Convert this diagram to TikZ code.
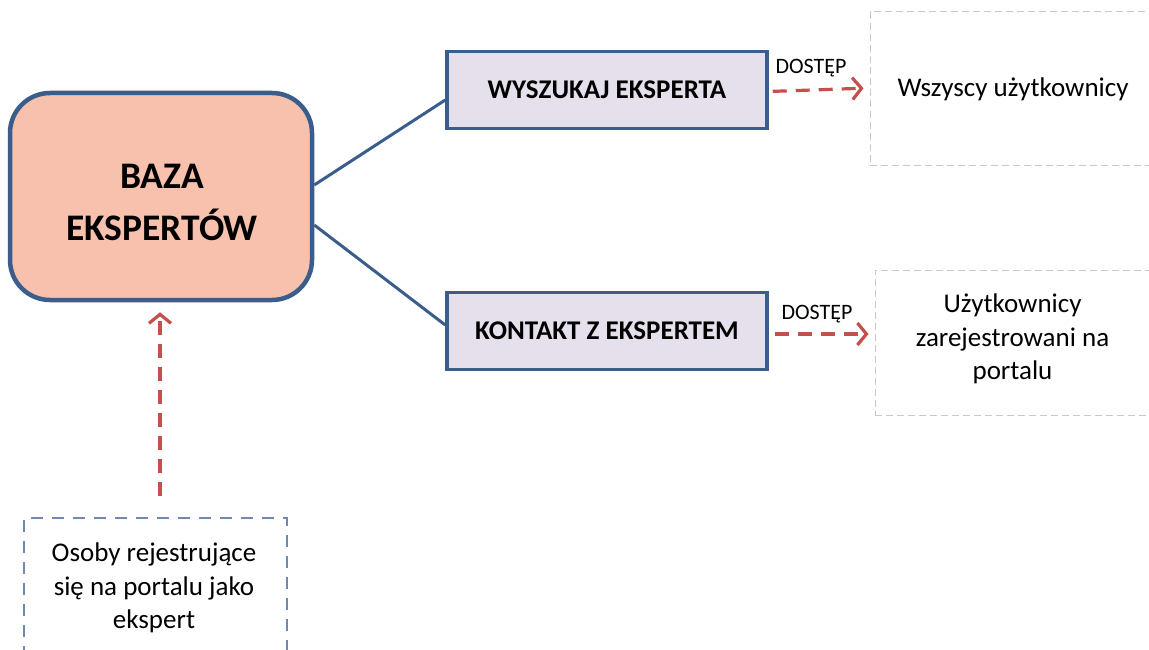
\documentclass[tikz,border=0pt]{standalone}
\usepackage{fontspec}
\setmainfont{Carlito}
\usetikzlibrary{arrows.meta,calc}
\definecolor{frameblue}{HTML}{3A5D8C}
\definecolor{salmon}{HTML}{F8C1AD}
\definecolor{lavender}{HTML}{E6E0EC}
\definecolor{accessred}{HTML}{C4504D}
\definecolor{lightgray}{HTML}{C8C8C8}
\definecolor{softblue}{HTML}{7189AF}
\tikzset{
  mainbox/.style={draw=frameblue, line width=4.5pt, fill=salmon, rounded corners=40pt,
    minimum width=302pt, minimum height=207pt, inner sep=0pt},
  maintext/.style={align=center, inner sep=0pt, font=\bfseries\fontsize{37.5}{52}\selectfont},
  funcbox/.style={draw=frameblue, line width=3.5pt, fill=lavender,
    minimum width=320pt, minimum height=77pt, inner sep=0pt,
    font=\bfseries\fontsize{27}{32}\selectfont},
  userbox/.style={draw=lightgray, line width=1pt, dash pattern=on 7pt off 4pt,
    align=center, inner sep=0pt, font=\fontsize{27}{33.5}\selectfont},
  sourcebox/.style={draw=softblue, line width=2.7pt, dash pattern=on 12pt off 9pt,
    inner sep=0pt},
  plaintext/.style={align=center, inner sep=0pt, font=\fontsize{27}{33.5}\selectfont},
  link/.style={draw=frameblue, line width=3pt},
  access/.style={draw=accessred, line width=3.2pt, dash pattern=on 14pt off 9pt,
    -{Straight Barb[length=9pt,width=22pt,line width=3.2pt]}},
  tag/.style={font=\fontsize{22}{26}\selectfont, inner sep=0pt}
}
\begin{document}
\begin{tikzpicture}[x=1pt,y=-1pt]
  \useasboundingbox (0,0) rectangle (1149,650);
  \begin{scope}
    \clip (0,0) rectangle (1149,650);

    % central database
    \node[mainbox] (baza) at (161,196.5) {};
    \node[maintext] (bazatxt) at (162,202) {BAZA\\EKSPERTÓW};

    % portal functions
    \node[funcbox] (wysz) at (607,90) {WYSZUKAJ EKSPERTA};
    \node[funcbox] (kont) at (607,331) {KONTAKT Z EKSPERTEM};

    % user groups
    \node[userbox, minimum width=286pt, minimum height=154pt] (all) at (1013,89)
      {Wszyscy użytkownicy};
    \node[userbox, minimum width=275pt, minimum height=145pt] (reg) at (1012.5,342.5)
      {};
    \node[plaintext] (regtxt) at (1012.5,339) {Użytkownicy\\zarejestrowani na\\portalu};

    % registering experts
    \node[sourcebox, minimum width=263pt, minimum height=144pt] (osoby) at (155.5,590)
      {};
    \node[plaintext] (osobytxt) at (154,588) {Osoby rejestrujące\\się na portalu jako\\ekspert};

    % links from database to functions
    \draw[link] ([yshift=11.5pt]baza.east) -- ([yshift=-10pt]wysz.west);
    \draw[link] ([yshift=-28.5pt]baza.east) -- ([yshift=6pt]kont.west);

    % access arrows
    \draw[access, shorten <=4pt, shorten >=6pt] ([yshift=-1.5pt]wysz.east) -- ([yshift=1pt]all.west);
    \draw[access, shorten <=6pt, shorten >=6pt] ([yshift=-3pt]kont.east) -- ([yshift=8.5pt]reg.west);
    \node[tag] (t1) at (811,68) {DOSTĘP};
    \node[tag] (t2) at (817,314) {DOSTĘP};

    % registration feeds the database
    \draw[access, shorten <=21pt, shorten >=10pt] ([xshift=4.5pt]osoby.north) -- ([xshift=-1pt]baza.south);
  \end{scope}
\end{tikzpicture}
\end{document}
